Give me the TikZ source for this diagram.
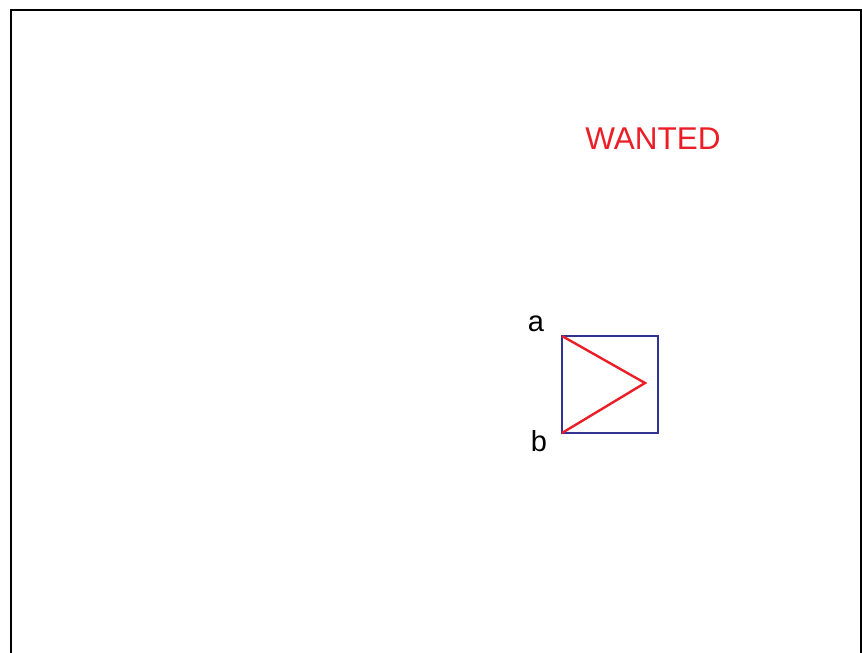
\documentclass[tikz,border=0pt]{standalone}
\usepackage{fontspec}
\setmainfont{Liberation Sans}
\usepackage{xcolor}
\definecolor{boxblue}{RGB}{50,50,145}
\definecolor{markred}{RGB}{235,30,40}
\begin{document}
\begin{tikzpicture}[x=1pt, y=-1pt,
    frame/.style={draw=black, line width=2.8pt},
    sq/.style={draw=boxblue, line width=2.4pt},
    wedge/.style={draw=markred, line width=2.4pt, line join=miter},
    lbl/.style={inner sep=0pt, font=\fontsize{29}{32}\selectfont},
    banner/.style={inner sep=0pt, text=markred, font=\fontsize{31.5}{36}\selectfont}]
  \useasboundingbox (0,0) rectangle (862,653);

  % --- outer frame (open at the bottom) ---
  \draw[frame] (11,660) -- (11,10) -- (861,10) -- (861,660);

  % --- the square with its wedge ---
  \coordinate (tl) at (562,336);
  \coordinate (br) at (658,433);
  \coordinate (bl) at (562,433);
  \coordinate (tip) at (645,383);
  \draw[sq] (tl) rectangle (br);
  \draw[wedge] (tl) -- (tip) -- (bl);

  % --- labels ---
  \node[lbl] (a) at (536,324) {a};
  \node[lbl] (b) at (539,441) {b};
  \node[banner] (wanted) at (653,138.5) {WANTED};
\end{tikzpicture}
\end{document}
